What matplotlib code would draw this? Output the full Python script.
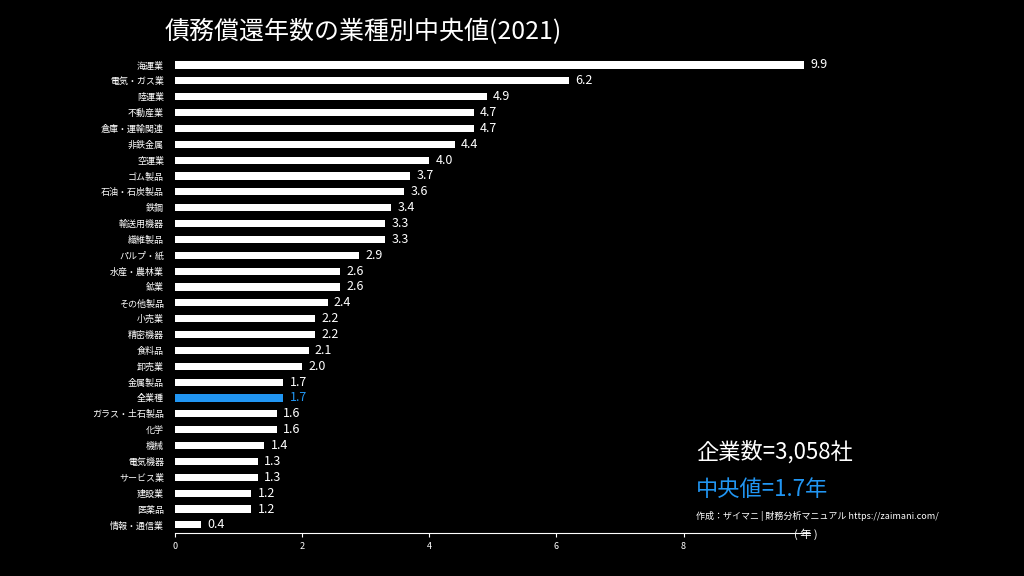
import matplotlib
matplotlib.use("Agg")
import matplotlib.pyplot as plt

plt.rcParams["font.family"] = ["Noto Sans CJK JP", "DejaVu Sans"]

categories = ["海運業","電気・ガス業","陸運業","不動産業","倉庫・運輸関連","非鉄金属","空運業","ゴム製品",
              "石油・石炭製品","鉄鋼","輸送用機器","繊維製品","パルプ・紙","水産・農林業","鉱業","その他製品",
              "小売業","精密機器","食料品","卸売業","金属製品","全業種","ガラス・土石製品","化学","機械",
              "電気機器","サービス業","建設業","医薬品","情報・通信業"]
values = [9.9,6.2,4.9,4.7,4.7,4.4,4.0,3.7,3.6,3.4,3.3,3.3,2.9,2.6,2.6,2.4,2.2,2.2,2.1,2.0,1.7,1.7,1.6,1.6,1.4,1.3,1.3,1.2,1.2,0.4]
highlight = "全業種"
blue = "#2196f3"

fig = plt.figure(figsize=(10.24, 5.76), dpi=100, facecolor="black")
ax = fig.add_axes([0.171, 0.075, 0.62, 0.826], facecolor="black")
y = list(range(len(categories)))
colors = [blue if c == highlight else "white" for c in categories]
ax.barh(y, values, height=0.45, color=colors)
for yi, v, c in zip(y, values, colors):
    ax.text(v + 0.1, yi, f"{v:.1f}", color=c, va="center", ha="left", fontsize=9)
ax.set_yticks(y)
ax.set_yticklabels(categories, fontsize=6.5, color="white")
for lbl, c in zip(ax.get_yticklabels(), colors):
    lbl.set_color("white")
ax.set_ylim(len(categories) - 0.5, -0.5)
ax.set_xlim(0, 9.99)
ax.set_xticks([0, 2, 4, 6, 8])
ax.tick_params(axis="x", colors="white", labelsize=6.5, length=3)
ax.tick_params(axis="y", length=0, pad=8)
for s in ["top", "right", "left"]:
    ax.spines[s].set_visible(False)
ax.spines["bottom"].set_color("white")

fig.text(0.161, 0.945, "債務償還年数の業種別中央値(2021)", color="white", fontsize=18, va="center")
fig.text(0.775, 0.073, "( 年 )", color="white", fontsize=8, va="center")
fig.text(0.68, 0.215, "企業数=3,058社", color="white", fontsize=16, va="center")
fig.text(0.68, 0.15, "中央値=1.7年", color=blue, fontsize=16, va="center")
fig.text(0.68, 0.105, "作成：ザイマニ | 財務分析マニュアル https://zaimani.com/", color="white", fontsize=6.5, va="center")
fig.savefig("out.png", dpi=100, facecolor="black")
